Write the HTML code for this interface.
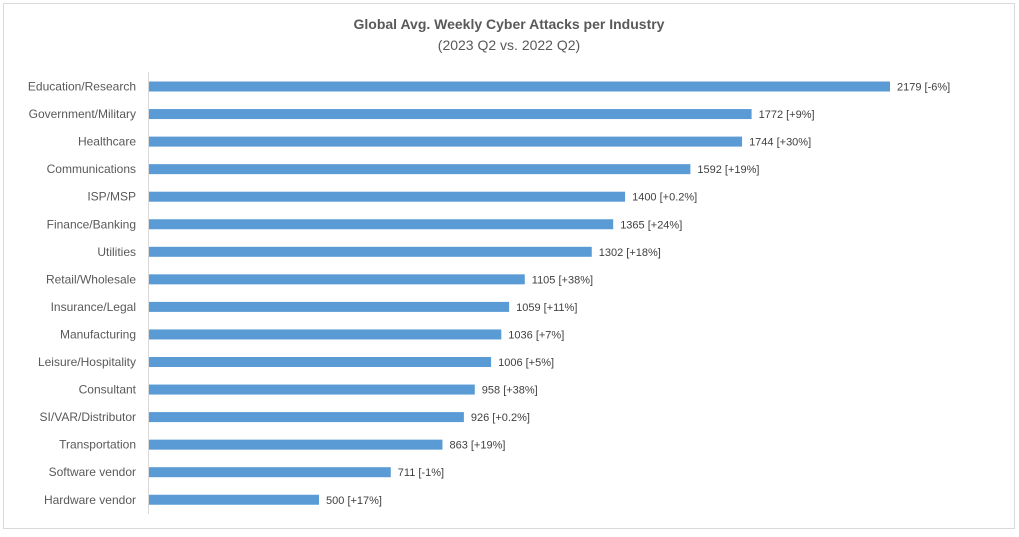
<!DOCTYPE html>
<html><head><meta charset="utf-8"><style>
body{margin:0;background:#fff;width:1019px;height:532px;overflow:hidden;font-family:"Liberation Sans",sans-serif}
svg text{font-family:"Liberation Sans",sans-serif}
</style></head><body>
<svg id="chart" width="1019" height="532">
<rect x="3.5" y="3.5" width="1011" height="525" fill="#fff" stroke="#d9d9d9"/>
<text x="509" y="29" text-anchor="middle" font-size="14" font-weight="bold" fill="#595959">Global Avg. Weekly Cyber Attacks per Industry</text>
<text x="509" y="50" text-anchor="middle" font-size="14" fill="#595959">(2023 Q2 vs. 2022 Q2)</text>
<line x1="148.5" y1="72" x2="148.5" y2="514" stroke="#d9d9d9"/>
<g id="bars"></g>
</svg>
<script>
const categories=["Education/Research","Government/Military","Healthcare","Communications","ISP/MSP","Finance/Banking","Utilities","Retail/Wholesale","Insurance/Legal","Manufacturing","Leisure/Hospitality","Consultant","SI/VAR/Distributor","Transportation","Software vendor","Hardware vendor"];
const values=[2179,1772,1744,1592,1400,1365,1302,1105,1059,1036,1006,958,926,863,711,500];
const changes=["-6%","+9%","+30%","+19%","+0.2%","+24%","+18%","+38%","+11%","+7%","+5%","+38%","+0.2%","+19%","-1%","+17%"];
const NS="http://www.w3.org/2000/svg";
const x0=149, scale=(890-149)/2179;
function xPos(v){return x0+v*scale;}
function yPos(i){return 86.5+i*27.55;}
const g=document.getElementById('bars');
categories.forEach((c,i)=>{
  const y=yPos(i);
  const r=document.createElementNS(NS,'rect');
  
  
  r.setAttribute('x',x0);r.setAttribute('y',y-5);
  r.setAttribute('width',xPos(values[i])-x0);r.setAttribute('height',10);
  r.setAttribute('fill','#5b9bd5');g.appendChild(r);
  const t=document.createElementNS(NS,'text');
  
  
  t.setAttribute('x',136);t.setAttribute('y',y+4);
  t.setAttribute('text-anchor','end');t.setAttribute('font-size','12');t.setAttribute('fill','#595959');
  t.textContent=c;g.appendChild(t);
  const v=document.createElementNS(NS,'text');
  
  
  v.setAttribute('x',xPos(values[i])+7);v.setAttribute('y',y+4);
  v.setAttribute('font-size','11');v.setAttribute('fill','#404040');
  v.textContent=values[i]+' ['+changes[i]+']';g.appendChild(v);
});
</script>
</body></html>
